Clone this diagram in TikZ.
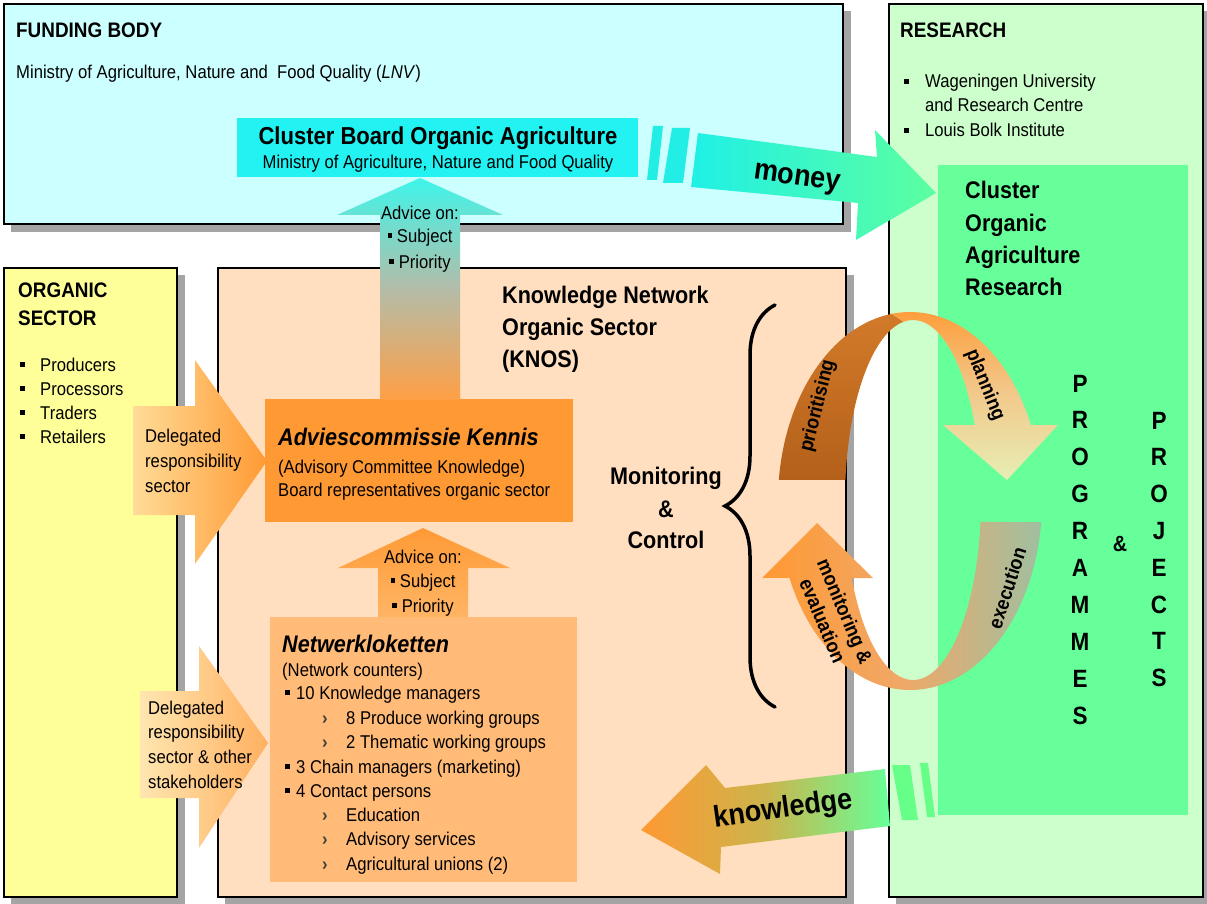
\documentclass[tikz,border=0pt]{standalone}
\usepackage{fontspec}
\setmainfont{Liberation Sans}[FakeStretch=0.9]
\usetikzlibrary{calc, decorations.pathreplacing}
\definecolor{fundbg}{HTML}{CCFFFF}
\definecolor{resbg}{HTML}{CCFFCC}
\definecolor{orgbg}{HTML}{FFFF99}
\definecolor{knosbg}{HTML}{FFDFC0}
\definecolor{boardc}{HTML}{22F2F2}
\definecolor{clusterc}{HTML}{66FF99}
\definecolor{advc}{HTML}{FF9933}
\definecolor{netc}{HTML}{FFBB77}
\definecolor{dropc}{HTML}{A4A4A4}
\definecolor{adtop}{HTML}{3FF5EA}
\definecolor{admid}{HTML}{B4BCA8}
\definecolor{adbot}{HTML}{FF9F45}
\definecolor{avtop}{HTML}{FF9A35}
\definecolor{avbot}{HTML}{FFB565}
\definecolor{dlaleft}{HTML}{FFDC98}
\definecolor{dlaright}{HTML}{FF9A33}
\definecolor{dlbleft}{HTML}{FFE6B0}
\definecolor{dlbright}{HTML}{FFB060}
\definecolor{moneyc}{HTML}{22EEE6}
\definecolor{moneyl}{HTML}{1FF0E6}
\definecolor{moneyr}{HTML}{5CFFA0}
\definecolor{knowl}{HTML}{FF9933}
\definecolor{knowm}{HTML}{CCB44C}
\definecolor{knowr}{HTML}{66FF99}
\definecolor{knowc}{HTML}{66FF88}
\definecolor{priotop}{HTML}{D27A2A}
\definecolor{priobot}{HTML}{B4601A}
\definecolor{plantop}{HTML}{FF9933}
\definecolor{planmid}{HTML}{F2C88A}
\definecolor{planbot}{HTML}{E6EEB4}
\definecolor{execl}{HTML}{FF9933}
\definecolor{execm}{HTML}{F0A868}
\definecolor{execr}{HTML}{A0BFA0}
\newcommand{\sqb}{\rule[0.22em]{0.26em}{0.26em}}
\newcommand{\subm}{{\color{black!75}\textbf{›}}}
\tikzset{%
    panel/.style={draw=black, line width=2.2pt},
    drop/.style={fill=dropc},
    txt/.style={anchor=base west, inner sep=0pt, font=\fontsize{18.5}{22}\selectfont},
    headtxt/.style={txt, font=\fontsize{21}{25}\selectfont\bfseries},
    bigtxt/.style={txt, font=\fontsize{24}{28}\selectfont\bfseries},
    bigit/.style={txt, font=\fontsize{24}{28}\selectfont\bfseries\itshape},
    lettr/.style={anchor=base, inner sep=0pt, font=\fontsize{25}{28}\selectfont\bfseries},
    ringtxt/.style={inner sep=0pt, align=center, font=\fontsize{20}{24}\selectfont\bfseries},
    flowtxt/.style={inner sep=0pt, font=\fontsize{30}{34}\selectfont\bfseries},
}
\begin{document}
\begin{tikzpicture}[x=1pt, y=-1pt]
    \useasboundingbox (0,0) rectangle (1207,904);
    % panels with drop shadows
    \fill[drop] (11,11) rectangle (851,232);
    \fill[drop] (896,11) rectangle (1210,904);
    \fill[drop] (11,275) rectangle (185,904);
    \fill[drop] (225,275) rectangle (854,904);
    \draw[panel, fill=fundbg] (4,4) rectangle (843,224);
    \draw[panel, fill=resbg] (889,4) rectangle (1203,897);
    \draw[panel, fill=orgbg] (4,268) rectangle (177,897);
    \draw[panel, fill=knosbg] (218,268) rectangle (846,897);
    % inner boxes
    \fill[boardc] (237,118) rectangle (638,177);
    \fill[clusterc] (938,165) rectangle (1188,815);
    \fill[advc] (265,399) rectangle (573,522);
    \fill[netc] (270,617) rectangle (577,882);
    % advice arrows
    \shade[top color=adtop, bottom color=adbot, middle color=admid]
        (380,400) -- (380,215) -- (337,215) -- (420,178) -- (503,215) -- (460,215) -- (460,400) -- cycle;
    \shade[top color=avtop, bottom color=avbot]
        (378,617) -- (378,568) -- (338,568) -- (423,528) -- (510,568) -- (468,568) -- (468,617) -- cycle;
    % delegated responsibility arrows
    \shade[left color=dlaleft, right color=dlaright]
        (133,406) -- (195,406) -- (195,360) -- (267,461) -- (195,564) -- (195,515) -- (133,515) -- cycle;
    \shade[left color=dlbleft, right color=dlbright]
        (140,691) -- (199,691) -- (199,646) -- (268,743) -- (199,848) -- (199,798) -- (140,798) -- cycle;
    % money
    \fill[moneyc] (653,126) -- (663,126) -- (657,180) -- (647,180) -- cycle;
    \fill[moneyc] (672,128) -- (690,128) -- (683,183) -- (663,183) -- cycle;
    \shade[left color=moneyl, right color=moneyr]
        (698,133) -- (877,157) -- (875,130) -- (936,193) -- (856,240) -- (858,203) -- (691,187) -- cycle;
    % knowledge
    \shade[left color=knowl, right color=knowr, middle color=knowm]
        (641,830) -- (706,765) -- (725,788) -- (885,769) -- (890,826) -- (721,847) -- (720,874) -- cycle;
    \fill[knowc] (892,765) -- (910,765) -- (918,820) -- (902,820) -- cycle;
    \fill[knowc] (920,763) -- (928,763) -- (935,817) -- (927,817) -- cycle;
    % cycle
    \coordinate (rc) at (910,501);
    \coordinate (ri) at (913,500);
    \shade[top color=priotop, bottom color=priobot]
        ($(rc)+(186.4:132 and 189)$) arc[start angle=186.4, end angle=262, x radius=132, y radius=189]
        -- ($(ri)+(262:68 and 180)$) arc[start angle=262, end angle=186.4, x radius=68, y radius=180] -- cycle;
    \shade[top color=plantop, bottom color=planbot, middle color=planmid]
        ($(rc)+(262:132 and 189)$) arc[start angle=262, end angle=336.3, x radius=132, y radius=189]
        -- (1058,425) -- (1007,480) -- (943,425) -- ($(ri)+(335.4:68 and 180)$)
        arc[start angle=335.4, end angle=262, x radius=68, y radius=180] -- cycle;
    \shade[left color=execl, right color=execr, middle color=execm]
        ($(rc)+(6.4:132 and 189)$) arc[start angle=6.4, end angle=156, x radius=132, y radius=189]
        -- (762,578) -- (817,523) -- (873,578) -- ($(ri)+(154.3:68 and 180)$)
        arc[start angle=154.3, end angle=7, x radius=68, y radius=180] -- cycle;
    % brace
    \draw[line width=3.5pt, line cap=round, decorate, decoration={brace, amplitude=50pt}] (775,707) -- (775,305);
    % funding body
    \node[headtxt] (fb) at (16,38) {FUNDING BODY};
    \node[txt] (fbm) at (16,79) {Ministry of Agriculture, Nature and \ Food Quality (\textit{LNV})};
    \node[bigtxt, anchor=base, font=\fontsize{24.5}{28}\selectfont\bfseries] (cb) at (438,145) {Cluster Board Organic Agriculture};
    \node[txt, anchor=base] (cbm) at (438,169) {Ministry of Agriculture, Nature and Food Quality};
    % research
    \node[headtxt] (rs) at (900,38) {RESEARCH};
    \node[txt] (rb1) at (904,88) {\sqb};
    \node[txt] (rs1) at (925,88) {Wageningen University};
    \node[txt] (rs2) at (925,112) {and Research Centre};
    \node[txt] (rb2) at (904,137) {\sqb};
    \node[txt] (rs3) at (925,137) {Louis Bolk Institute};
    \foreach \w [count=\i] in {Cluster, Organic, Agriculture, Research}
        \node[bigtxt] (cr\i) at (965,167+\i*32) {\w};
    % organic sector
    \node[headtxt] (os1) at (18,297) {ORGANIC};
    \node[headtxt] (os2) at (18,325) {SECTOR};
    \foreach \w [count=\i] in {Producers, Processors, Traders, Retailers} {
        \node[txt] (osb\i) at (20,347+\i*24) {\sqb};
        \node[txt] (osi\i) at (40,347+\i*24) {\w};
    }
    \foreach \w [count=\i] in {Delegated, responsibility, sector}
        \node[txt] (dla\i) at (145,417+\i*25) {\w};
    \foreach \w [count=\i] in {Delegated, responsibility, sector \& other, stakeholders}
        \node[txt] (dlb\i) at (148,689.3+\i*24.7) {\w};
    % KNOS
    \foreach \w [count=\i] in {Knowledge Network, Organic Sector, (KNOS)}
        \node[bigtxt] (kn\i) at (502,271+\i*32) {\w};
    \node[txt, anchor=base] (a1) at (420,219) {Advice on:};
    \node[txt, anchor=base] (a1s) at (420,242) {\sqb\ Subject};
    \node[txt, anchor=base] (a1p) at (420,268) {\sqb\ Priority};
    \node[bigit] (ak) at (278,445) {Adviescommissie Kennis};
    \node[txt] (ak2) at (278,473) {(Advisory Committee Knowledge)};
    \node[txt] (ak3) at (278,496) {Board representatives organic sector};
    \node[txt, anchor=base] (a2) at (423,563) {Advice on:};
    \node[txt, anchor=base] (a2s) at (423,587) {\sqb\ Subject};
    \node[txt, anchor=base] (a2p) at (423,612) {\sqb\ Priority};
    \node[bigit] (nw) at (282,652) {Netwerkloketten};
    \node[txt] (nw0) at (282,676) {(Network counters)};
    \foreach \y/\t [count=\i] in {699/10 Knowledge managers, 773/3 Chain managers (marketing), 797/4 Contact persons} {
        \node[txt] (nb\i) at (285,\y) {\sqb};
        \node[txt] (nt\i) at (296,\y) {\t};
    }
    \foreach \y/\t [count=\i] in {724/8 Produce working groups, 748/2 Thematic working groups, 821/Education, 845/Advisory services, 870/Agricultural unions (2)} {
        \node[txt] (ns\i) at (322,\y) {\subm};
        \node[txt] (nst\i) at (346,\y) {\t};
    }
    \node[bigtxt, anchor=base] (mc1) at (666,484) {Monitoring};
    \node[bigtxt, anchor=base] (mc2) at (666,517) {\&};
    \node[bigtxt, anchor=base] (mc3) at (666,548) {Control};
    % programmes and projects
    \foreach \c [count=\i from 0] in {P,R,O,G,R,A,M,M,E,S}
        \node[lettr] (pg\i) at (1080,392+\i*36.9) {\c};
    \foreach \c [count=\i from 0] in {P,R,O,J,E,C,T,S}
        \node[lettr] (pj\i) at (1159,429+\i*36.8) {\c};
    \node[lettr, font=\fontsize{22}{26}\selectfont\bfseries] (amp) at (1120,551) {\&};
    % flow labels
    \node[flowtxt, rotate=-8] (mn) at (797,180) {money};
    \node[flowtxt, rotate=8] (kw) at (783,810) {knowledge};
    \node[ringtxt, rotate=76] (lprio) at (818,406) {prioritising};
    \node[ringtxt, rotate=-68] (lplan) at (985,385) {planning};
    \node[ringtxt, rotate=72] (lexec) at (1007,588) {execution};
    \node[ringtxt, rotate=-67] (lmon) at (834,616) {monitoring \&\\evaluation};
\end{tikzpicture}
\end{document}
